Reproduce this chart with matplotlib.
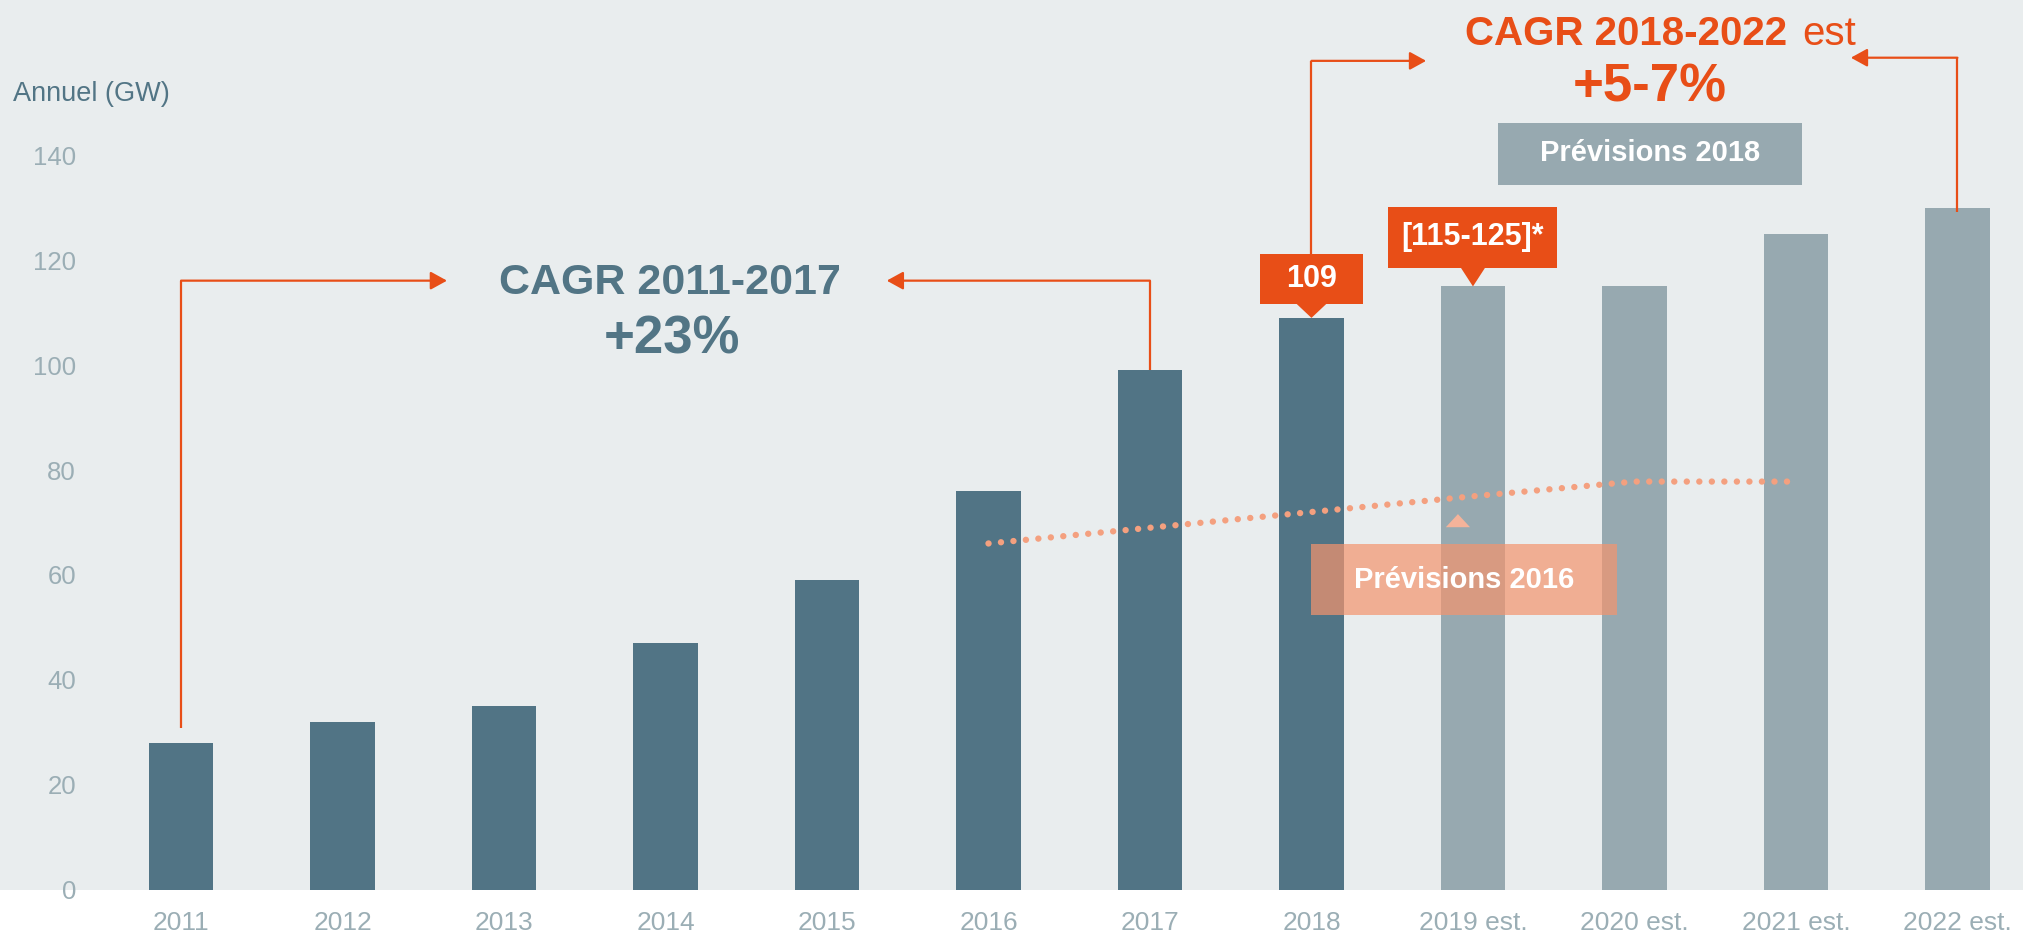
import matplotlib
matplotlib.use("Agg")
import matplotlib.pyplot as plt
from matplotlib.patches import Rectangle, Polygon

plt.rcParams['font.family'] = ['Liberation Sans', 'DejaVu Sans']

# ---- data ----
years = ['2011', '2012', '2013', '2014', '2015', '2016', '2017', '2018',
         '2019 est.', '2020 est.', '2021 est.', '2022 est.']
values = [28, 32, 35, 47, 59, 76, 99, 109, 115, 115, 125, 130]
is_estimate = [False] * 8 + [True] * 4
forecast2016_years = ['2016', '2017', '2018', '2019 est.', '2020 est.', '2021 est.']
forecast2016_values = [66, 69, 72, 75, 77.8, 77.8]
yticks = [0, 20, 40, 60, 80, 100, 120, 140]

# ---- style ----
BG = '#E9EDEE'
DARK = '#517485'
LIGHT = '#97A9B0'
ORANGE = '#E84E17'
SALMON = '#F4946E'
TICK = '#9BAEB5'
TXT = '#527585'

fig = plt.figure(figsize=(20.23, 9.34), dpi=100, facecolor='white')
ax = fig.add_axes([0, 44.3 / 934, 1, 889.7 / 934])
ax.set_facecolor(BG)
x = list(range(len(years)))
ax.bar(x, values, width=0.4,
       color=[LIGHT if e else DARK for e in is_estimate], zorder=2)
ax.set_xlim(-1.121, 11.406)
ax.set_ylim(0, 169.6)
for s in ax.spines.values():
    s.set_visible(False)
ax.set_xticks(x)
ax.set_xticklabels(years)
ax.set_yticks(yticks)
ax.tick_params(axis='x', length=0, pad=15, labelsize=19, labelcolor=TICK)
ax.tick_params(axis='y', length=0, pad=-54.7, labelsize=18.5, labelcolor=TICK)

ax.text(-1.04, 151.6, 'Annuel (GW)', ha='left', va='center', fontsize=19.5, color=TXT)

# forecast 2016 dotted line
fx = [years.index(y) for y in forecast2016_years]
ax.plot(fx, forecast2016_values, color='#F4A07F', lw=4.6, linestyle=(0, (0.01, 1.95)),
        dash_capstyle='round', zorder=3)
ax.add_patch(Polygon([(7.907 - 0.075, 69.1), (7.907 + 0.075, 69.1), (7.907, 71.6)],
                     closed=True, color='#F4B39A', lw=0, zorder=3))
ax.add_patch(Rectangle((7.0, 52.4), 1.89, 13.5, color=SALMON, alpha=0.71, lw=0, zorder=4))
ax.text(7.945, 59.0, 'Prévisions 2016', ha='center', va='center', fontsize=21,
        fontweight='bold', color='white', zorder=5)

# Prévisions 2018 box
ax.add_patch(Rectangle((8.155, 134.3), 1.885, 11.8, color=LIGHT, lw=0, zorder=4))
ax.text(9.097, 140.5, 'Prévisions 2018', ha='center', va='center', fontsize=21,
        fontweight='bold', color='white', zorder=5)

# value callouts
def callout(xc, x0, x1, y0, y1, tip, hw, label):
    ax.add_patch(Rectangle((x0, y0), x1 - x0, y1 - y0, color=ORANGE, lw=0, zorder=6))
    ax.add_patch(Polygon([(xc - hw, y0 + 0.2), (xc + hw, y0 + 0.2), (xc, tip)],
                         closed=True, color=ORANGE, lw=0, zorder=6))
    ax.text((x0 + x1) / 2, (y0 + y1) / 2, label, ha='center', va='center',
            fontsize=22, fontweight='bold', color='white', zorder=7)

callout(7, 6.681, 7.319, 111.7, 121.1, values[7], 0.1, str(values[7]))
callout(8, 7.474, 8.52, 118.6, 130.2, values[8], 0.08, '[115-125]*')

# brackets
def bracket(xv, y_from, y_to, x_tip):
    ax.plot([xv, xv], [y_from, y_to], color=ORANGE, lw=1.6, solid_capstyle='butt', zorder=6)
    ax.annotate('', xy=(x_tip, y_to), xytext=(xv, y_to),
                arrowprops=dict(arrowstyle='-|>,head_length=1.0,head_width=0.55',
                                color=ORANGE, lw=1.6, shrinkA=0, shrinkB=0), zorder=6)

bracket(0, 30.9, 116.1, 1.647)
bracket(6, 99, 116.1, 4.37)
bracket(7, 121.1, 158.0, 7.71)
bracket(11, 129.1, 158.6, 10.34)

# CAGR texts
ax.text(3.03, 115.6, 'CAGR 2011-2017', ha='center', va='center', fontsize=31,
        fontweight='bold', color=TXT)
ax.text(3.04, 104.9, '+23%', ha='center', va='center', fontsize=38,
        fontweight='bold', color=TXT)
ax.text(9.944, 161.1, 'CAGR 2018-2022', ha='right', va='baseline', fontsize=29,
        fontweight='bold', color=ORANGE)
ax.text(10.04, 161.1, 'est', ha='left', va='baseline', fontsize=29, color=ORANGE)
ax.text(9.096, 150.2, '+5-7%', ha='center', va='baseline', fontsize=38,
        fontweight='bold', color=ORANGE)

fig.savefig('out.png', dpi=100, facecolor='white')
